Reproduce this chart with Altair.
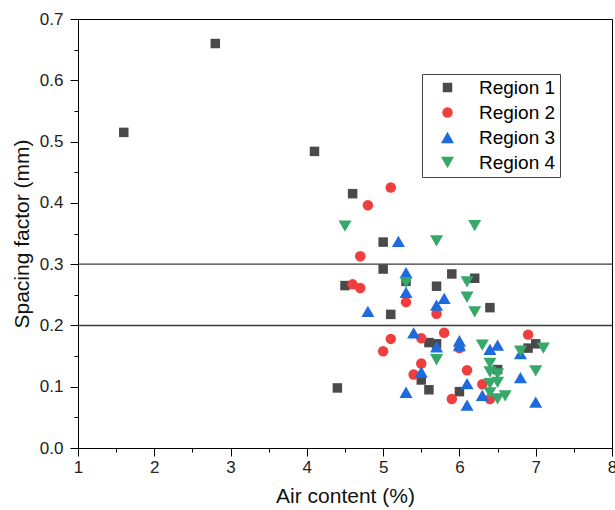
import altair as alt
import pandas as pd

regions = ["Region 1", "Region 2", "Region 3", "Region 4"]
colors = ["#4a4a4a", "#f03e3e", "#1e6be0", "#36a86a"]
shapes = ["square", "circle", "triangle-up", "triangle-down"]
sizes = [90, 110, 170, 170]

r1x = [1.6, 2.8, 4.1, 4.6, 5.0, 5.0, 4.5, 5.1, 5.3, 5.9, 5.7, 6.2, 6.4, 5.6, 5.7, 5.5, 4.4, 5.6, 6.0, 6.5, 6.9, 7.0]
r1y = [0.515, 0.660, 0.484, 0.415, 0.336, 0.292, 0.265, 0.218, 0.272, 0.284, 0.264, 0.277, 0.229, 0.172, 0.170, 0.111, 0.098, 0.095, 0.092, 0.128, 0.163, 0.170]

r2x = [5.1, 4.8, 4.7, 4.6, 4.7, 5.3, 5.7, 5.1, 5.5, 5.8, 5.0, 5.5, 5.4, 5.9, 6.0, 6.1, 6.3, 6.4, 6.9]
r2y = [0.425, 0.396, 0.313, 0.267, 0.261, 0.238, 0.219, 0.178, 0.179, 0.188, 0.158, 0.138, 0.120, 0.080, 0.163, 0.127, 0.104, 0.080, 0.185]

r3x = [5.2, 5.3, 5.3, 5.8, 5.7, 4.8, 5.4, 5.7, 5.5, 5.3, 6.0, 6.0, 6.4, 6.5, 6.8, 6.8, 6.1, 6.3, 6.1, 7.0]
r3y = [0.337, 0.286, 0.254, 0.244, 0.233, 0.223, 0.188, 0.165, 0.124, 0.091, 0.175, 0.167, 0.161, 0.168, 0.154, 0.115, 0.105, 0.086, 0.070, 0.075]

r4x = [4.5, 5.7, 6.2, 5.3, 6.1, 6.1, 6.2, 5.7, 6.3, 6.8, 7.1, 6.4, 6.4, 6.5, 6.5, 6.4, 7.0, 6.4, 6.5, 6.6]
r4y = [0.362, 0.338, 0.363, 0.270, 0.271, 0.246, 0.222, 0.144, 0.168, 0.158, 0.163, 0.138, 0.124, 0.121, 0.107, 0.105, 0.126, 0.090, 0.080, 0.085]

limit_lines = [0.2, 0.3]
x_major = [1, 2, 3, 4, 5, 6, 7, 8]
x_minor = [1.5, 2.5, 3.5, 4.5, 5.5, 6.5, 7.5]
y_major = [0.0, 0.1, 0.2, 0.3, 0.4, 0.5, 0.6, 0.7]
y_minor = [0.05, 0.15, 0.25, 0.35, 0.45, 0.55, 0.65]

rows = []
for name, xs, ys in zip(regions, [r1x, r2x, r3x, r4x], [r1y, r2y, r3y, r4y]):
    for a, b in zip(xs, ys):
        rows.append({"Region": name, "air": a, "sf": b})
df = pd.DataFrame(rows)

FONT = "Liberation Sans"
xscale = alt.Scale(domain=[1, 8], nice=False, zero=False)
yscale = alt.Scale(domain=[0, 0.7], nice=False, zero=False)

common_axis = dict(domainColor="black", tickColor="black", domainWidth=1, tickWidth=1,
                   grid=False, labelFont=FONT, titleFont=FONT, labelColor="#222",
                   titleColor="#111", titleFontWeight="normal")

x_axis = alt.Axis(values=x_major, format="d", title="Air content (%)", orient="bottom",
                  tickSize=8, labelPadding=3, labelFontSize=17, titleFontSize=21,
                  titleY=48, titleBaseline="middle", labelFlush=False, labelOverlap=False,
                  **common_axis)
y_axis = alt.Axis(values=y_major, format=".1f", title="Spacing factor  (mm)", orient="left",
                  tickSize=8, labelPadding=7, labelFontSize=17, titleFontSize=21,
                  titleX=-56, titleBaseline="middle", labelFlush=False, labelOverlap=False,
                  **common_axis)

x_minor_axis = alt.Axis(values=x_minor, labels=False, title=None, orient="bottom", tickSize=4,
                        domain=False, tickColor="black", grid=False)
y_minor_axis = alt.Axis(values=y_minor, labels=False, title=None, orient="left", tickSize=4,
                        domain=False, tickColor="black", grid=False)

rules = alt.Chart(pd.DataFrame({"lim": limit_lines})).mark_rule(
    color="#3a3a3a", strokeWidth=1.4
).encode(y=alt.Y("lim:Q", scale=yscale, axis=None))

points = alt.Chart(df).mark_point(filled=True, opacity=1, strokeWidth=0).encode(
    x=alt.X("air:Q", scale=xscale, axis=x_axis),
    y=alt.Y("sf:Q", scale=yscale, axis=y_axis),
    color=alt.Color("Region:N", scale=alt.Scale(domain=regions, range=colors),
                    legend=alt.Legend(title=None, orient="none", legendX=344, legendY=55,
                                      strokeColor="#444", fillColor="white", padding=4,
                                      symbolOffset=12, labelOffset=22, labelFontSize=19,
                                      labelFont=FONT, labelColor="black", symbolSize=110,
                                      rowPadding=5, symbolStrokeWidth=0)),
    shape=alt.Shape("Region:N", scale=alt.Scale(domain=regions, range=shapes)),
    size=alt.Size("Region:O", scale=alt.Scale(type="ordinal", domain=regions, range=sizes),
                  legend=None),
)

minor = alt.Chart(df).mark_point(opacity=0).encode(
    x=alt.X("air:Q", scale=xscale, axis=x_minor_axis),
    y=alt.Y("sf:Q", scale=yscale, axis=y_minor_axis),
)

chart = alt.layer(rules, points, minor).resolve_axis(
    x="independent", y="independent"
).properties(
    width=534, height=429,
    autosize=alt.AutoSizeParams(type="none"),
    padding={"left": 78, "top": 19, "right": 3, "bottom": 62},
).configure_view(stroke="black", strokeWidth=1)

chart.save("out.html", embed_options={"renderer": "svg", "actions": False})
